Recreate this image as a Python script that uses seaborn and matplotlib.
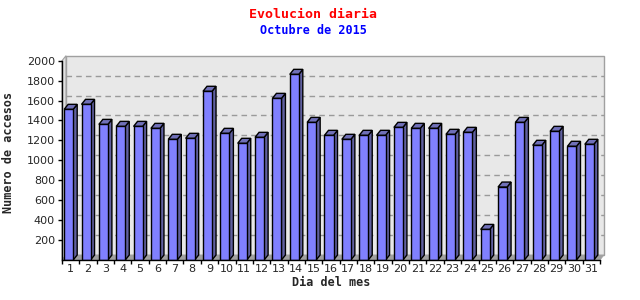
import numpy as np
import pandas as pd
import matplotlib
matplotlib.use("Agg")
import matplotlib.pyplot as plt
from matplotlib.patches import Polygon, Rectangle
import seaborn as sns

days = [str(d) for d in range(1, 32)]
accesos = [1512, 1562, 1361, 1341, 1341, 1321, 1211, 1221, 1693, 1271,
           1171, 1231, 1622, 1863, 1381, 1251, 1211, 1251, 1251, 1331,
           1321, 1321, 1261, 1281, 307, 732, 1381, 1151, 1291, 1141, 1161]
yticks = [200, 400, 600, 800, 1000, 1200, 1400, 1600, 1800, 2000]

title = "Evolucion diaria"
subtitle = "Octubre de 2015"
xlabel = "Dia del mes"
ylabel = "Numero de accesos"

df = pd.DataFrame({"dia": days, "accesos": accesos})

sns.set_theme(style="white")
plt.rcParams["font.family"] = ["DejaVu Sans"]

W, H = 640, 300
fig = plt.figure(figsize=(6.4, 3.0), dpi=100)
fig.patch.set_facecolor("white")
ax_l, ax_b, ax_w, ax_h = 62, 40, 538, 199.3
ax = fig.add_axes([ax_l / W, ax_b / H, ax_w / W, ax_h / H])
ax.set_facecolor("none")

n = len(days)
ymax = 2000
ax.set_xlim(-0.5, n - 0.5)
ax.set_ylim(0, ymax)

px_x = ax_w / n            # pixels per x data unit
px_y = ax_h / ymax         # pixels per y data unit
DX = 4 / px_x              # 3D depth in data units
DY = 5 / px_y

x0, x1 = -0.5, n - 0.5
# back wall
ax.add_patch(Rectangle((x0 + DX, DY), x1 - x0, ymax, facecolor="#E8E8E8",
                       edgecolor="#A0A0A0", lw=1.0, zorder=0, clip_on=False))
# left wall
ax.add_patch(Polygon([(x0, 0), (x0, ymax), (x0 + DX, ymax + DY), (x0 + DX, DY)],
                     closed=True, facecolor="#E0E0E0", edgecolor="#A0A0A0",
                     lw=0.8, zorder=0.5, clip_on=False))
# floor
ax.add_patch(Polygon([(x0, 0), (x1, 0), (x1 + DX, DY), (x0 + DX, DY)],
                     closed=True, facecolor="#A0A0A0", edgecolor="#A0A0A0",
                     lw=0.5, zorder=0.5, clip_on=False))
# dashed grid on back wall
for t in yticks[:-1]:
    ax.plot([x0 + DX, x1 + DX], [t + DY, t + DY], color="#9A9A9A", lw=1.0,
            ls=(0, (4, 3)), zorder=0.6, clip_on=False)

sns.barplot(data=df, x="dia", y="accesos", order=days, color="#8080FF",
            saturation=1, width=0.52, edgecolor="black", linewidth=1.0,
            ax=ax, zorder=2)

for p in list(ax.patches):
    if not isinstance(p, Rectangle) or p.get_zorder() != 2:
        continue
    p.set_x(p.get_x() - DX / 2)
    x = p.get_x()
    w = p.get_width()
    h = p.get_height()
    side = Polygon([(x + w, 0), (x + w + DX, DY), (x + w + DX, h + DY), (x + w, h)],
                   closed=True, facecolor="#6060A0", edgecolor="black", lw=1.0,
                   zorder=1.9, clip_on=False)
    top = Polygon([(x, h), (x + DX, h + DY), (x + w + DX, h + DY), (x + w, h)],
                  closed=True, facecolor="#7070B8", edgecolor="black", lw=1.0,
                  zorder=1.9, clip_on=False)
    ax.add_patch(side)
    ax.add_patch(top)

for s in ["top", "right"]:
    ax.spines[s].set_visible(False)
for s in ["left", "bottom"]:
    ax.spines[s].set_visible(True)
    ax.spines[s].set_color("black")
    ax.spines[s].set_linewidth(1.0)
    ax.spines[s].set_zorder(3)

ax.set_yticks(yticks)
ax.set_yticklabels([str(t) for t in yticks], fontsize=8)
ax.tick_params(axis="y", length=3, width=1, color="black", pad=2, left=True)
ax.set_xticks(range(n))
ax.set_xticklabels(days, fontsize=8)
ax.tick_params(axis="x", which="major", length=0, pad=3)
ax.set_xticks(np.arange(-0.5, n, 1.0), minor=True)
ax.tick_params(axis="x", which="minor", length=3, width=1, color="black", bottom=True)

ax.set_xlabel(xlabel, fontsize=8.5, fontweight="bold", family="DejaVu Sans Mono", labelpad=1)
ax.set_ylabel(ylabel, fontsize=8.5, fontweight="bold", family="DejaVu Sans Mono", labelpad=6)
ax.yaxis.set_label_coords(-0.088, (260 - 152) / ax_h)

fig.text(313 / W, 1 - 14 / H, title, color="red", fontsize=9.5, fontweight="bold",
         family="DejaVu Sans Mono", ha="center", va="center")
fig.text(313 / W, 1 - 31 / H, subtitle, color="blue", fontsize=8.5, fontweight="bold",
         family="DejaVu Sans Mono", ha="center", va="center")

fig.savefig("out.png", dpi=100, facecolor="white")
